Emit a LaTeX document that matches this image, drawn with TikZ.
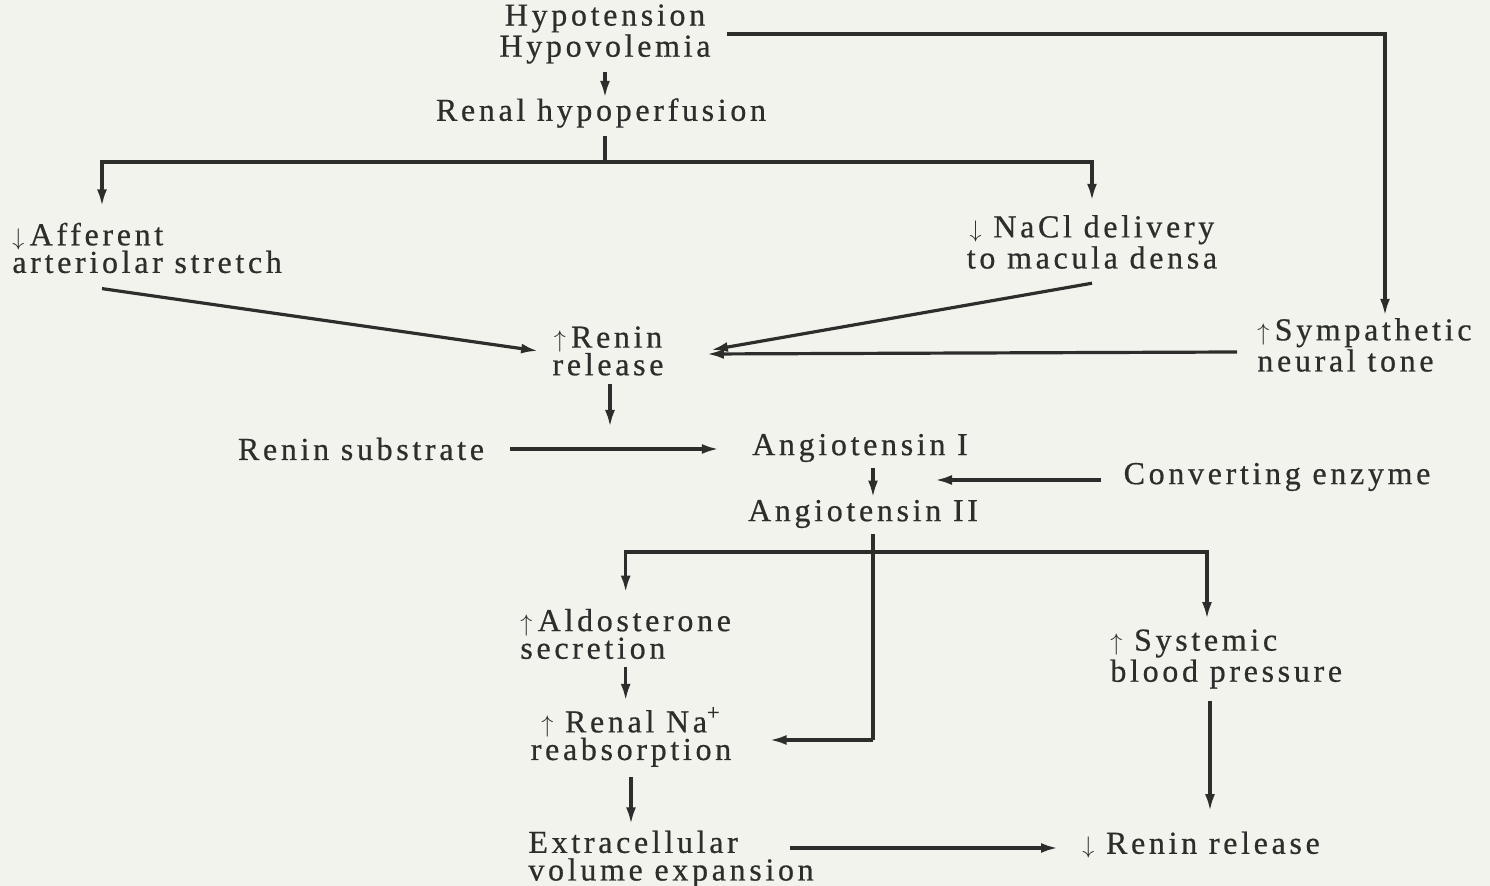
\documentclass[tikz,border=0pt]{standalone}
\usepackage{fontspec}
\setmainfont{Liberation Serif}[LetterSpace=11.5, FakeBold=0.6]
\usetikzlibrary{arrows.meta}

\definecolor{ink}{RGB}{45,45,43}
\definecolor{paper}{RGB}{243,243,238}
\newcommand{\incr}{{\fontsize{13}{13}\selectfont$\uparrow$}}
\newcommand{\decr}{{\fontsize{13}{13}\selectfont$\downarrow$}}

\begin{document}
\begin{tikzpicture}[x=0.5pt, y=-0.5pt,
    every node/.style={text=ink, inner sep=0pt, font=\fontsize{16}{13.8}\selectfont},
    lbl/.style={align=center},
    lblL/.style={align=left, anchor=west},
    ln/.style={draw=ink, line width=1.6pt},
    arr/.style={ln, -{Latex[length=8.5pt,width=5pt]}}]

    \useasboundingbox (0,0) rectangle (1490,886);
    \fill[paper] (0,0) rectangle (1490,886);

    % labels
    \node[lbl]  (hyp)  at (605,34)   {Hypotension\\Hypovolemia};
    \node       (perf) at (601,113)  {Renal hypoperfusion};
    \node[lblL] (aff)  at (12,248)   {\decr\,Afferent\\arteriolar stretch};
    \node[lbl]  (nacl) at (1092,242) {\decr\ NaCl delivery\\to macula densa};
    \node[lblL] (symp) at (1257,345) {\incr\,Sympathetic\\neural tone};
    \node[lbl]  (rel)  at (608,351)  {\incr\,Renin\\release};
    \node       (sub)  at (361,449)  {Renin substrate};
    \node       (ang1) at (860,448)  {Angiotensin I};
    \node       (conv) at (1277,477) {Converting enzyme};
    \node       (ang2) at (863,514)  {Angiotensin II};
    \node[lblL] (aldo) at (520,634)  {\incr\,Aldosterone\\secretion};
    \node[lbl]  (na)   at (631,737)  {\incr\ Renal Na\textsuperscript{+}\\reabsorption};
    \node[lblL] (ecv)  at (528,859)  {Extracellular\\volume expansion};
    \node[lblL] (sbp)  at (1110,659) {\incr\ Systemic\\blood pressure};
    \node[anchor=west] (dren) at (1082,845) {\decr\ Renin release};

    % junctions
    \coordinate (split1) at (605,162);
    \coordinate (split2) at (873,552);
    \coordinate (bend)   at (873,740);
    \coordinate (react)  at (610,427);
    \coordinate (convin) at (935,480);
    \coordinate (ecvout) at (790,848);

    % upper part
    \draw[arr, shorten <=4pt] (hyp.south) -- (hyp.south |- perf.north);
    \draw[ln, shorten <=4pt] (perf.south -| split1) -- (split1);
    \draw[arr, shorten >=8pt] (split1) -| ([xshift=45pt]aff.north west);
    \draw[arr, shorten >=7pt] (split1) -| (nacl.north);
    \draw[arr, shorten <=8pt] (hyp.east) -| ([shift={(128,-2)}]symp.north west);

    \draw[arr] ([shift={(90,15)}]aff.south west) -- ([xshift=-7pt]rel.west);
    \draw[arr] ([yshift=-7pt]nacl.south) -- ([shift={(47,-1)}]rel.east);
    \draw[arr] ([shift={(-20,7)}]symp.west) -- ([shift={(43,3)}]rel.east);

    % renin and angiotensin
    \draw[arr, shorten <=4pt] (rel.south -| react) -- (react);
    \draw[arr] ([xshift=13pt]sub.east) -- ([shift={(-33,1)}]ang1.west);
    \draw[arr, shorten <=3pt, shorten >=1pt] ([xshift=6.5pt]ang1.south) -- ([xshift=6.5pt]ang1.south |- ang2.north);
    \draw[arr, shorten <=11pt] (conv.west |- convin) -- (convin);

    % lower part
    \draw[ln, shorten <=3pt] (split2 |- ang2.south) -- (bend);
    \draw[arr] (bend) -- ([xshift=19pt]na.east |- bend);
    \draw[arr, shorten >=8pt] (split2) -| (aldo.north);
    \draw[arr, shorten >=5pt] (split2) -| ([xshift=48.5pt]sbp.north west);
    \draw[arr, shorten <=4pt, shorten >=3pt] (aldo.south) -- (aldo.south |- na.north);
    \draw[arr, shorten <=5pt, shorten >=3pt] (na.south) -- (na.south |- ecv.north);
    \draw[arr] (ecvout) -- ([xshift=-12pt]ecvout -| dren.west);
    \draw[arr, shorten <=6pt, shorten >=10pt] ([xshift=50pt]sbp.south west) -- ([xshift=50pt]sbp.south west |- dren.north);
\end{tikzpicture}
\end{document}
